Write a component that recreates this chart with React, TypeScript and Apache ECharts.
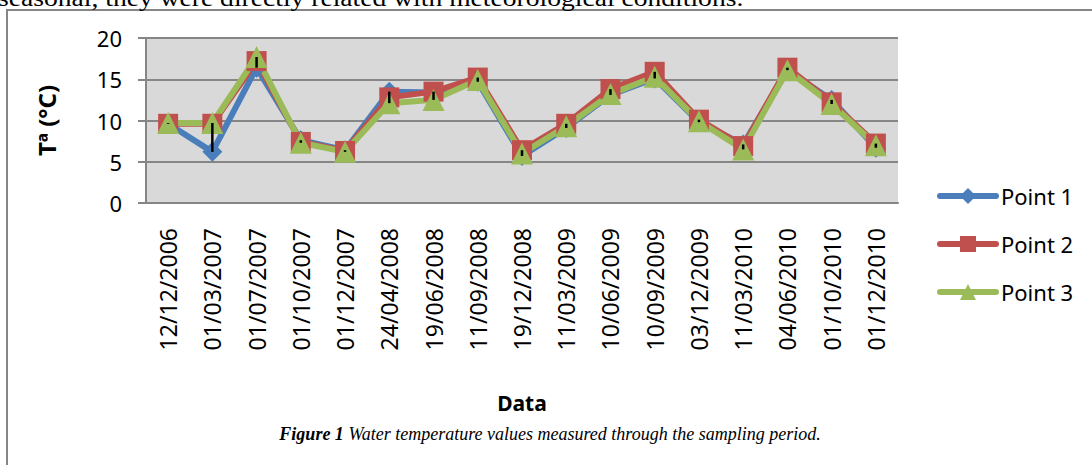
import React, { useEffect, useRef } from "react";
import * as echarts from "echarts";

const categories = [
  "12/12/2006", "01/03/2007", "01/07/2007", "01/10/2007", "01/12/2007",
  "24/04/2008", "19/06/2008", "11/09/2008", "19/12/2008", "11/03/2009",
  "10/06/2009", "10/09/2009", "03/12/2009", "11/03/2010", "04/06/2010",
  "01/10/2010", "01/12/2010",
];
const point1 = [9.6, 6.2, 16.4, 7.6, 6.4, 13.5, 13.4, 14.7, 5.7, 9.1, 13.1, 15.1, 9.8, 7.1, 16.1, 12.5, 6.7];
const point2 = [9.6, 9.6, 17.2, 7.4, 6.3, 12.8, 13.5, 15.2, 6.4, 9.6, 13.8, 15.9, 10.1, 6.9, 16.4, 12.2, 7.2];
const point3 = [9.7, 9.7, 17.7, 7.3, 6.2, 12.1, 12.5, 14.9, 6.0, 9.3, 13.2, 15.3, 9.9, 6.5, 16.1, 12.0, 7.0];
const seriesNames = ["Point 1", "Point 2", "Point 3"];
const yTicks = [0, 5, 10, 15, 20];

const FONT = "Noto Sans";

export default function App() {
  const ref = useRef<HTMLDivElement>(null);
  useEffect(() => {
    if (!ref.current) return;
    const chart = echarts.init(ref.current, null, { renderer: "svg" });
    const highLow = categories.map((_, i) => {
      const vals = [point1[i], point2[i], point3[i]];
      return [i, Math.max(...vals), Math.min(...vals)];
    });
    const lineSeries = (name: string, data: number[], color: string, symbol: string, size: number) => ({
      name,
      type: "line",
      data,
      symbol,
      symbolSize: size,
      lineStyle: { color, width: 6, cap: "round", join: "round" },
      itemStyle: { color },
      z: 2,
    });
    chart.setOption({
      animation: false,
      backgroundColor: "#ffffff",
      grid: {
        left: 146,
        top: 38,
        width: 752,
        height: 165,
        show: true,
        backgroundColor: "#D9D9D9",
        borderWidth: 0,
      },
      legend: {
        orient: "vertical",
        left: 932,
        top: 180,
        itemWidth: 56,
        itemHeight: 20,
        itemGap: 26,
        data: seriesNames,
        lineStyle: { width: 6, cap: "round" },
        textStyle: { fontFamily: FONT, fontSize: 22, color: "#000", lineHeight: 22 },
      },
      xAxis: {
        type: "category",
        data: categories,
        boundaryGap: true,
        axisLine: { show: true, lineStyle: { color: "#868686", width: 2 } },
        axisTick: { show: false },
        axisLabel: {
          rotate: 90,
          interval: 0,
          margin: 25,
          fontFamily: FONT,
          fontSize: 23,
          color: "#000",
        },
        name: "Data",
        nameLocation: "middle",
        nameGap: 189,
        nameTextStyle: { fontFamily: FONT, fontSize: 21, fontWeight: "bold", color: "#000" },
      },
      yAxis: {
        type: "value",
        min: 0,
        max: 20,
        interval: 5,
        axisLine: { show: true, lineStyle: { color: "#868686", width: 2 } },
        axisTick: { show: true, length: 8, lineStyle: { color: "#868686", width: 2 } },
        splitLine: { show: true, lineStyle: { color: "#868686", width: 2 } },
        axisLabel: {
          margin: 24,
          fontFamily: FONT,
          fontSize: 22,
          color: "#000",
          formatter: (v: number) => (yTicks.includes(v) ? String(v) : ""),
        },
        name: "Tª (°C)",
        nameLocation: "middle",
        nameRotate: 90,
        nameGap: 88,
        nameTextStyle: { fontFamily: FONT, fontSize: 24, fontWeight: "bold", color: "#000" },
      },
      series: [
        lineSeries(seriesNames[0], point1, "#4A7EBB", "diamond", 20),
        lineSeries(seriesNames[1], point2, "#C0504D", "rect", 20),
        lineSeries(seriesNames[2], point3, "#9BBB59", "triangle", 22),
        {
          name: "highlow",
          type: "custom",
          data: highLow,
          encode: { x: 0, y: [1, 2] },
          z: 10,
          silent: true,
          renderItem: (_params: any, api: any) => {
            const x = api.value(0);
            const hi = api.coord([x, api.value(1)]);
            const lo = api.coord([x, api.value(2)]);
            return {
              type: "line",
              shape: { x1: hi[0], y1: hi[1], x2: lo[0], y2: lo[1] },
              style: { stroke: "#000", lineWidth: 2.5 },
            };
          },
        },
      ],
      graphic: [
        {
          type: "rect",
          shape: { x: 7, y: 10, width: 1200, height: 600 },
          style: { fill: "none", stroke: "#868686", lineWidth: 2 },
          silent: true,
          z: 0,
        },
        {
          type: "text",
          x: -2,
          y: 9,
          scaleX: 1.2,
          style: {
            text: "seasonal, they were directly related with meteorological conditions.",
            font: "23px 'Liberation Serif'",
            fill: "#000",
            textVerticalAlign: "bottom",
          },
          silent: true,
        },
        {
          type: "text",
          x: 550,
          y: 434,
          style: {
            text: "{b|Figure 1}{i| Water temperature values measured through the sampling period.}",
            textAlign: "center",
            textVerticalAlign: "middle",
            rich: {
              b: { fontFamily: "Liberation Serif", fontStyle: "italic", fontWeight: "bold", fontSize: 18, fill: "#000" },
              i: { fontFamily: "Liberation Serif", fontStyle: "italic", fontSize: 18, fill: "#000" },
            },
          },
          silent: true,
        },
      ],
    });
    return () => chart.dispose();
  }, []);
  return (
    <div
      ref={ref}
      style={{ position: "fixed", left: 0, top: 0, width: 1092, height: 465 }}
    />
  );
}
